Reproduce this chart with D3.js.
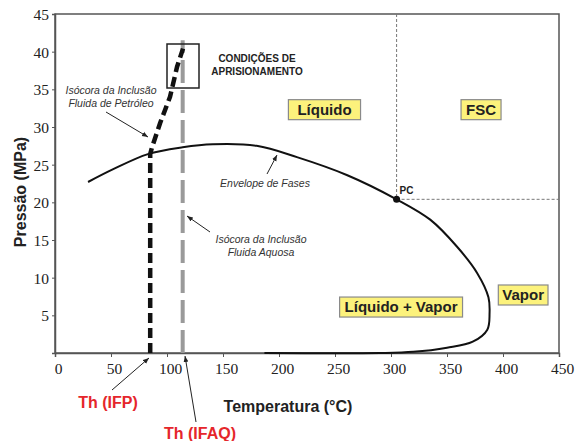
<!DOCTYPE html>
<html>
<head>
<meta charset="utf-8">
<script src="https://cdn.jsdelivr.net/npm/d3@7"></script>
<style>
  body { margin: 0; background: #fff; }
  svg { display: block; }
  .tick text { font-family: "Liberation Serif", "Times New Roman", serif; font-size: 15.5px; fill: #222; }
</style>
</head>
<body>
<div id="chart"></div>
<script>
////////// DATA //////////

// phase envelope (Temperatura °C, Pressão MPa)
const envT = [29.5, 52, 83, 114, 141, 180, 216, 261, 305, 335, 359, 377, 387, 388, 386, 373, 350, 320, 290, 187];
const envP = [22.7, 24.4, 26.4, 27.3, 27.7, 27.5, 26.0, 23.6, 20.4, 17.7, 14.1, 10.6, 7.4, 5.3, 3.1, 1.5, 0.7, 0.15, 0, 0];

// isochore of the petroleum inclusion
const ifpT = [85, 85, 86.6, 93.8, 102.7, 109, 114.3];
const ifpP = [0, 26.4, 27.3, 30.5, 34, 38, 40.4];

// isochore of the aqueous inclusion
const ifaqT = [114, 114];
const ifaqP = [0, 41.5];

// critical point
const pcT = 305, pcP = 20.4;

const xTicks = [0, 50, 100, 150, 200, 250, 300, 350, 400, 450];
const yTicks = [5, 10, 15, 20, 25, 30, 35, 40, 45];

const regionNames = ["Líquido", "FSC", "Líquido + Vapor", "Vapor"];
const regionT = [240.6, 380.4, 309, 418];
const regionP = [32.3, 32.3, 6.1, 7.7];

////////// SETUP //////////

const width = 588, height = 441;
const margin = {top: 14, right: 29, bottom: 88, left: 55};

let x = d3.scaleLinear()
    .domain([0, 450])
    .range([margin.left, width - margin.right]);

let y = d3.scaleLinear()
    .domain([0, 45])
    .range([height - margin.bottom, margin.top]);

let svg = d3.select("#chart")
  .append("svg")
    .attr("width", width)
    .attr("height", height)
    .style("font-family", "Arial, 'Liberation Sans', sans-serif");

svg.append("defs")
  .append("marker")
    .attr("id", "arrow")
    .attr("viewBox", "0 0 10 10")
    .attr("refX", 10)
    .attr("refY", 5)
    .attr("markerWidth", 6)
    .attr("markerHeight", 6)
    .attr("orient", "auto")
  .append("path")
    .attr("d", "M0,1 L10,5 L0,9 z")
    .attr("fill", "#222");

////////// AXES //////////

svg.append("rect")
    .attr("x", x(0))
    .attr("y", y(45))
    .attr("width", x(450) - x(0))
    .attr("height", y(0) - y(45))
    .attr("fill", "none")
    .attr("stroke", "#555")
    .attr("stroke-width", 1.5);

let xAxis = svg.append("g")
    .attr("transform", "translate(0," + y(0) + ")")
    .call(d3.axisBottom(x).tickValues(xTicks).tickSize(4).tickPadding(6));

xAxis.select(".domain").attr("stroke", "#555").attr("stroke-width", 1.5);
xAxis.selectAll(".tick line").attr("stroke", "#555");
xAxis.selectAll(".tick text").attr("dx", 3);

let yAxis = svg.append("g")
    .attr("transform", "translate(" + x(0) + ",0)")
    .call(d3.axisLeft(y).tickValues(yTicks).tickSize(3).tickPadding(3));

yAxis.select(".domain").attr("stroke", "#555").attr("stroke-width", 1.5);
yAxis.selectAll(".tick line").attr("stroke", "#555");
yAxis.selectAll(".tick text").attr("dy", "0.36em");

svg.append("text")
    .attr("transform", "translate(26," + 192 + ") rotate(-90)")
    .attr("text-anchor", "middle")
    .style("font-size", "16px")
    .style("font-weight", "bold")
    .style("fill", "#222")
    .text("Pressão (MPa)");

svg.append("text")
    .attr("x", 288)
    .attr("y", 412)
    .attr("text-anchor", "middle")
    .style("font-size", "16px")
    .style("font-weight", "bold")
    .style("fill", "#222")
    .text("Temperatura (°C)");

////////// PC GUIDES //////////

svg.append("line")
    .attr("x1", x(pcT)).attr("x2", x(pcT))
    .attr("y1", y(45)).attr("y2", y(pcP))
    .attr("stroke", "#777")
    .attr("stroke-width", 1)
    .attr("stroke-dasharray", "3,2");

svg.append("line")
    .attr("x1", x(pcT)).attr("x2", x(450))
    .attr("y1", y(pcP)).attr("y2", y(pcP))
    .attr("stroke", "#777")
    .attr("stroke-width", 1)
    .attr("stroke-dasharray", "3,2");

////////// LINES //////////

let line = d3.line()
    .x(d => x(d[0]))
    .y(d => y(d[1]));

// aqueous isochore
svg.append("path")
    .datum(d3.zip(ifaqT, ifaqP))
    .attr("d", line)
    .attr("fill", "none")
    .attr("stroke", "#9a9a9a")
    .attr("stroke-width", 4)
    .attr("stroke-dasharray", "23,7");

// phase envelope
svg.append("path")
    .datum(d3.zip(envT, envP))
    .attr("d", line.curve(d3.curveCatmullRom))
    .attr("fill", "none")
    .attr("stroke", "#111")
    .attr("stroke-width", 2);

// petroleum isochore
svg.append("path")
    .datum(d3.zip(ifpT, ifpP))
    .attr("d", line.curve(d3.curveLinear))
    .attr("fill", "none")
    .attr("stroke", "#111")
    .attr("stroke-width", 4.5)
    .attr("stroke-dasharray", "10,5");

svg.append("circle")
    .attr("cx", x(pcT))
    .attr("cy", y(pcP))
    .attr("r", 3.5)
    .attr("fill", "#111");

svg.append("text")
    .attr("x", x(pcT) + 3)
    .attr("y", y(pcP) - 5)
    .style("font-size", "10px")
    .style("font-weight", "bold")
    .style("fill", "#222")
    .text("PC");

////////// TRAPPING BOX //////////

svg.append("rect")
    .attr("x", 167).attr("y", 44)
    .attr("width", 32).attr("height", 44)
    .attr("fill", "none")
    .attr("stroke", "#222")
    .attr("stroke-width", 1.5);

let trap = svg.append("text")
    .attr("text-anchor", "middle")
    .style("font-size", "10px")
    .style("font-weight", "bold")
    .style("fill", "#222");
trap.append("tspan").attr("x", 257).attr("y", 62).text("CONDIÇÕES DE");
trap.append("tspan").attr("x", 257).attr("y", 75).text("APRISIONAMENTO");

////////// REGION LABELS //////////

const padX = [9, 5, 5, 4];

regionNames.forEach((name, i) => {
  let g = svg.append("g")
      .attr("transform", "translate(" + x(regionT[i]) + "," + y(regionP[i]) + ")");
  let rect = g.append("rect");
  let t = g.append("text")
      .attr("text-anchor", "middle")
      .attr("dy", "0.36em")
      .style("font-size", "15px")
      .style("font-weight", "bold")
      .style("fill", "#222")
      .text(name);
  let w = t.node().getComputedTextLength() + 2 * padX[i];
  rect.attr("x", -w / 2).attr("y", -10)
      .attr("width", w).attr("height", 20)
      .attr("fill", "#fcf27c")
      .attr("stroke", "#8a8a8a")
      .attr("stroke-width", 1.2);
});

////////// ANNOTATIONS //////////

function note(lines, cx, y0) {
  let t = svg.append("text")
      .attr("text-anchor", "middle")
      .style("font-size", "10.5px")
      .style("font-style", "italic")
      .style("fill", "#333");
  lines.forEach((l, i) => {
    t.append("tspan").attr("x", cx).attr("y", y0 + i * 13).text(l);
  });
}

function arrow(x1, y1, x2, y2, w) {
  svg.append("line")
      .attr("x1", x1).attr("y1", y1)
      .attr("x2", x2).attr("y2", y2)
      .attr("stroke", "#222")
      .attr("stroke-width", w || 1)
      .attr("marker-end", "url(#arrow)");
}

note(["Isócora da Inclusão", "Fluida de Petróleo"], 111, 94);
arrow(106, 112, 148, 137);

note(["Envelope de Fases"], 265, 187);
arrow(267, 174, 277, 155);

note(["Isócora da Inclusão", "Fluida Aquosa"], 261, 243);
arrow(210, 232, 187, 216);

arrow(112, 390, 149, 358);
arrow(196, 422, 185, 356);

svg.append("text")
    .attr("x", 108).attr("y", 408)
    .attr("text-anchor", "middle")
    .style("font-size", "16px")
    .style("font-weight", "bold")
    .style("fill", "#e5262b")
    .text("Th (IFP)");

svg.append("text")
    .attr("x", 200).attr("y", 439)
    .attr("text-anchor", "middle")
    .style("font-size", "16px")
    .style("font-weight", "bold")
    .style("fill", "#e5262b")
    .text("Th (IFAQ)");
</script>
</body>
</html>
